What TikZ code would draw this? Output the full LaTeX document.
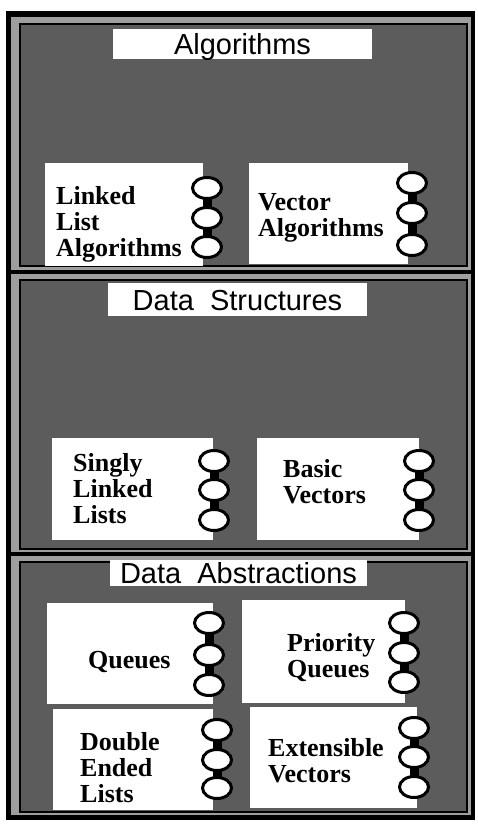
\documentclass[tikz,border=0pt]{standalone}
\usepackage{fontspec}
\setmainfont{Liberation Serif}
\setsansfont{Liberation Sans}
\tikzset{
  frame/.style={fill=black},
  band/.style={fill=black!38},
  field/.style={fill=black!64, draw=black, line width=1.5pt},
  title/.style={fill=white, inner sep=0pt, text height=21pt, text depth=0pt,
    font=\sffamily\fontsize{29}{29}\selectfont},
  comp/.style={fill=white, draw=none, inner sep=0pt, anchor=north west},
  lbl/.style={inner sep=0pt, anchor=base west, align=left,
    font=\bfseries\fontsize{26}{26}\selectfont},
  knob/.style={fill=white, draw=black, line width=3pt},
  knobbar/.style={draw=black, line width=9pt}
}
% a column of three connector knobs on a component's right edge
\newcommand\compknobs[4]{%
  \draw[knobbar] (#1,#2) -- (#1,#4);
  \foreach \ky in {#2,#3,#4} \draw[knob] (#1,\ky) ellipse (14.5pt and 10.5pt);
}
\begin{document}
\begin{tikzpicture}[x=1pt,y=-1pt]
\useasboundingbox (0,0) rectangle (477,825);
\fill[white] (0,0) rectangle (477,825);

% outer frame
\fill[frame] (6,11) rectangle (475,820);

% three layers
\fill[band] (11,17) rectangle (471,270);
\draw[field] (20,24) rectangle (467,266);
\fill[band] (11,274) rectangle (471,552);
\draw[field] (20,280) rectangle (467,549);
\fill[band] (11,556) rectangle (471,815);
\draw[field] (20,562) rectangle (467,812);

% layer titles
\node[title, minimum width=259pt, minimum height=30pt] (talg) at (242.5,44) {Algorithms};
\node[title, minimum width=259pt, minimum height=33pt] (tds) at (237.5,299.5) {Data\ \ Structures};
\node[title, minimum width=257pt, minimum height=26pt] (tda) at (238.5,573) {Data\ \ Abstractions};

% Algorithms layer (label nodes sit on the baseline of their last line)
\node[comp, minimum width=158pt, minimum height=103pt] (lla) at (45,163) {};
\compknobs{207}{188}{218}{247}
\node[lbl] (llat) at (56,256) {Linked\\List\\Algorithms};
\node[comp, minimum width=159pt, minimum height=101pt] (va) at (249,163) {};
\compknobs{412}{183}{213}{245}
\node[lbl] (vat) at (258,236) {Vector\\Algorithms};

% Data Structures layer
\node[comp, minimum width=161pt, minimum height=102pt] (sll) at (52,438) {};
\compknobs{214}{461}{490}{520}
\node[lbl] (sllt) at (73,523) {Singly\\Linked\\Lists};
\node[comp, minimum width=162pt, minimum height=102pt] (bv) at (257,438) {};
\compknobs{419}{461}{490}{520}
\node[lbl] (bvt) at (283,503) {Basic\\Vectors};

% Data Abstractions layer
\node[comp, minimum width=166pt, minimum height=101pt] (q) at (47,603) {};
\compknobs{209}{623}{655}{685}
\node[lbl] (qt) at (88,668) {Queues};
\node[comp, minimum width=163pt, minimum height=103pt] (pq) at (242,600) {};
\compknobs{404}{623}{653}{682}
\node[lbl] (pqt) at (287,677) {Priority\\Queues};
\node[comp, minimum width=160pt, minimum height=101pt] (del) at (53,709) {};
\compknobs{217}{730}{760}{788}
\node[lbl] (delt) at (80,802) {Double\\Ended\\Lists};
\node[comp, minimum width=167pt, minimum height=101pt] (ev) at (250,707) {};
\compknobs{414}{728}{757}{787}
\node[lbl] (evt) at (268,782) {Extensible\\Vectors};
\end{tikzpicture}
\end{document}
